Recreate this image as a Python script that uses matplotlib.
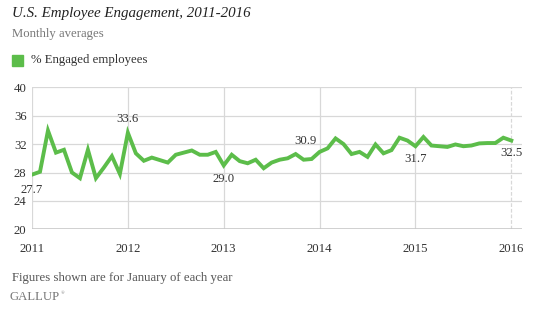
import matplotlib
matplotlib.use("Agg")
import matplotlib.pyplot as plt
import numpy as np

years = [2011, 2012, 2013, 2014, 2015, 2016]
engaged_2011 = [27.7, 28.1, 33.9, 30.8, 31.2, 28.0, 27.2, 31.2, 27.2, 28.7, 30.3, 27.8]
engaged_2012 = [33.6, 30.7, 29.65, 30.1, 29.75, 29.4, 30.5, 30.8, 31.1, 30.5, 30.5, 30.9]
engaged_2013 = [29.0, 30.5, 29.6, 29.3, 29.8, 28.6, 29.4, 29.8, 30.0, 30.6, 29.8, 29.9]
engaged_2014 = [30.9, 31.4, 32.8, 32.0, 30.6, 30.9, 30.2, 31.95, 30.7, 31.15, 32.9, 32.5]
engaged_2015 = [31.7, 33.0, 31.8, 31.7, 31.6, 31.95, 31.7, 31.8, 32.1, 32.15, 32.15, 32.9]
engaged_2016 = [32.5]
values = engaged_2011 + engaged_2012 + engaged_2013 + engaged_2014 + engaged_2015 + engaged_2016
labeled_years = [2011, 2012, 2013, 2014, 2015, 2016]
labeled_values = [27.7, 33.6, 29.0, 30.9, 31.7, 32.5]

x = 2011 + np.arange(len(values)) / 12.0

W, H = 536, 331
fig = plt.figure(figsize=(W / 100, H / 100), dpi=100)
serif = ["Liberation Serif", "DejaVu Serif"]
green = "#5cbd4a"
grid_c = "#d8d8d8"

ax_left = 32 / W
ax_right = 521.7 / W
ax_top = 1 - 87.3 / H
ax_bottom = 1 - 229.3 / H
ax = fig.add_axes([ax_left, ax_bottom, ax_right - ax_left, ax_top - ax_bottom])
ax.set_xlim(2011, 2016 + 10.4 / 96)
ax.set_ylim(20, 40)

for yv in [24, 28, 32, 36, 40]:
    ax.axhline(yv, color=grid_c, lw=0.9, zorder=1)
for xv in years:
    ax.axvline(xv, color=grid_c, lw=0.9, zorder=1,
               ls=(0, (3, 1.5)) if xv == 2016 else "-")
ax.axhline(20, color="#c8c8c8", lw=1.2, zorder=1)

ax.plot(x, values, color=green, lw=2.8, solid_joinstyle="miter", zorder=3)

for s in ax.spines.values():
    s.set_visible(False)
ax.set_yticks([20, 24, 28, 32, 36, 40])
ax.set_xticks(years)
ax.tick_params(length=0, labelsize=9.2, colors="#333333")
ax.tick_params(axis="y", pad=4)
ax.tick_params(axis="x", pad=10)
for lab in ax.get_xticklabels() + ax.get_yticklabels():
    lab.set_family(serif)

offsets = {2011: (0, -11), 2012: (0, 10), 2013: (0, -10), 2014: (-10, 8), 2015: (0, -9), 2016: (0, -9)}
for yr, v in zip(labeled_years, labeled_values):
    dx, dy = offsets[yr]
    ax.annotate(f"{v:.1f}", (yr, v), xytext=(dx, dy), textcoords="offset points",
                ha="center", va="center", fontsize=9.2, family=serif, color="#333333")

fig.text(12 / W, 1 - 13 / H, "U.S. Employee Engagement, 2011-2016", fontsize=10.8,
         style="italic", family=serif, color="#222222", va="center", ha="left")
fig.text(12 / W, 1 - 34 / H, "Monthly averages", fontsize=9.2, family=serif,
         color="#777777", va="center", ha="left")
fig.patches.append(plt.Rectangle((12 / W, 1 - 66 / H), 11 / W, 11 / H,
                                 transform=fig.transFigure, color=green, figure=fig))
fig.text(31 / W, 1 - 60.5 / H, "% Engaged employees", fontsize=9.2, family=serif,
         color="#333333", va="center", ha="left")
fig.text(12 / W, 1 - 278 / H, "Figures shown are for January of each year", fontsize=9.2,
         family=serif, color="#555555", va="center", ha="left")
fig.text(9 / W, 1 - 297 / H, "GALLUP", fontsize=9.2, family=serif,
         color="#777777", va="center", ha="left")
fig.text(61 / W, 1 - 293 / H, "\u00ae", fontsize=3.5, family=serif,
         color="#777777", va="center", ha="left")

fig.savefig("out.png", dpi=100)
